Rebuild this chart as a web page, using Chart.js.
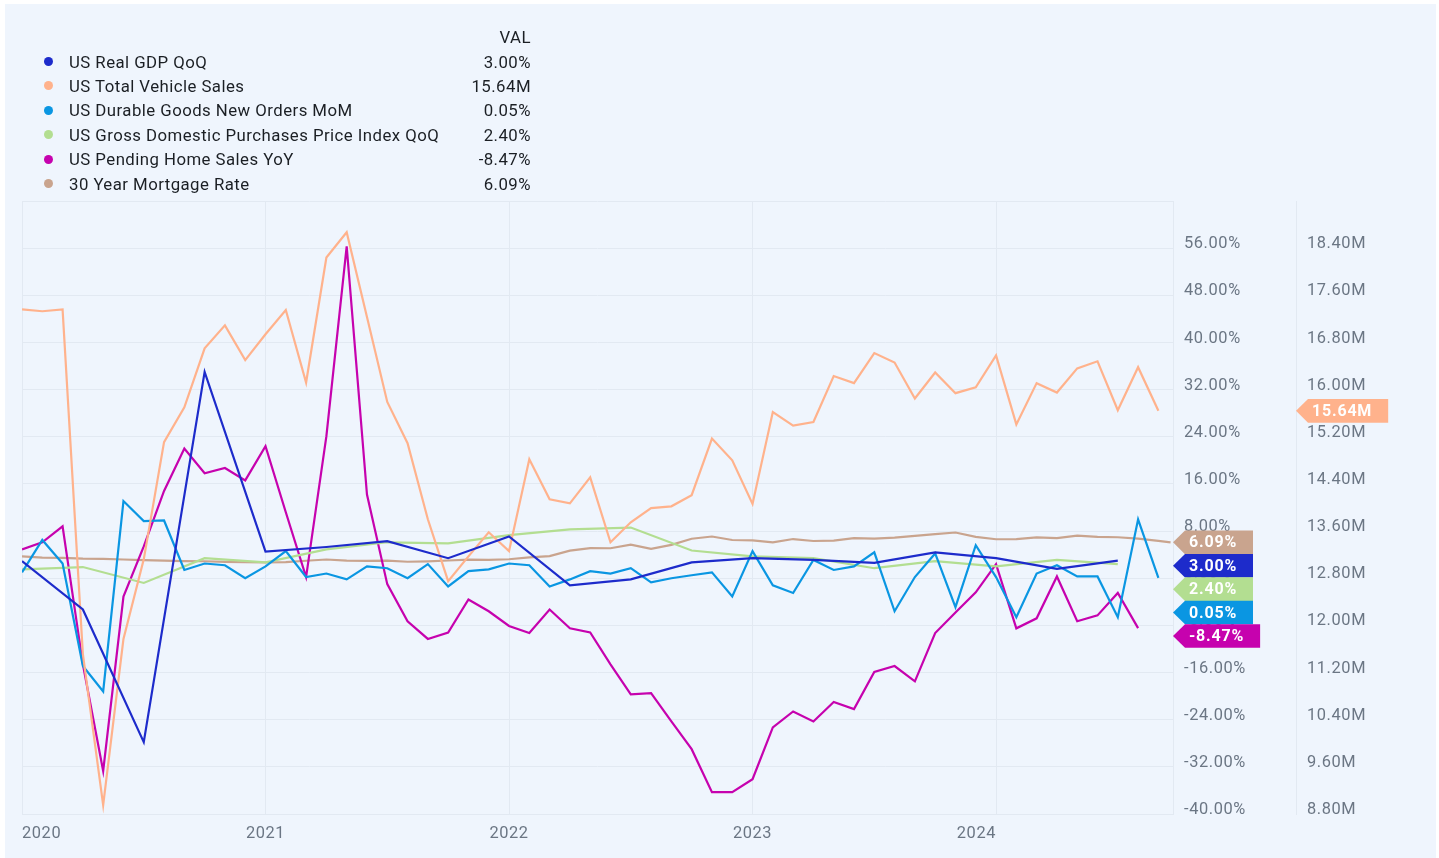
<!DOCTYPE html>
<html>
<head>
<meta charset="utf-8">
<script src="https://cdn.jsdelivr.net/npm/chart.js@4.4.1/dist/chart.umd.min.js"></script>
<style>
  html, body { margin: 0; padding: 0; background: #ffffff; }
  body { width: 1439px; height: 858px; position: relative; overflow: hidden; font-family: Roboto, "Noto Sans", sans-serif; }
  .panel { position: absolute; left: 5px; top: 4px; width: 1431px; height: 854px; background: #eff5fd; }
  #chart { position: absolute; left: 0; top: 0; width: 1439px; height: 858px; }
  .legend { position: absolute; left: 44px; top: 25px; width: 487px; font-size: 16.8px; letter-spacing: 0.45px; color: #1b1f24; z-index: 2; }
  .legend .row { height: 24.4px; display: flex; align-items: center; }
  .legend .dot { width: 9px; height: 9px; border-radius: 50%; margin-right: 16px; flex: none; }
  .legend .name { flex: 1; white-space: nowrap; }
  .legend .val { text-align: right; white-space: nowrap; }
</style>
</head>
<body>
<div class="panel"></div>
<canvas id="chart" width="1439" height="858"></canvas>
<div class="legend" id="legend"></div>
<script>
// Eixo x: meses desde jan/2020
const yearLabels = ['2020', '2021', '2022', '2023', '2024'];
const yearTicks = [0, 12, 24, 36, 48];
const pctTicks = [-40, -32, -24, -16, -8, 0, 8, 16, 24, 32, 40, 48, 56, 64];
const millionTicks = [8.8, 9.6, 10.4, 11.2, 12.0, 12.8, 13.6, 14.4, 15.2, 16.0, 16.8, 17.6, 18.4, 19.2];

const seriesNames = [
    'US Real GDP QoQ',
    'US Total Vehicle Sales',
    'US Durable Goods New Orders MoM',
    'US Gross Domestic Purchases Price Index QoQ',
    'US Pending Home Sales YoY',
    '30 Year Mortgage Rate'
];

// trimestral, a partir de jan/2020
const gdpQoQ = [2.9, -5.3, -27.8, 35.0, 4.5, 5.3, 6.3, 3.4, 7.1, -1.2, -0.2, 2.7, 3.4, 3.1, 2.6, 4.4, 3.4, 1.6, 3.0];

// mensal, milhões
const vehicleSales = [17.36, 17.33, 17.36, 11.51, 8.95, 11.77, 13.12, 15.11, 15.70, 16.70, 17.09, 16.50,
    16.94, 17.35, 16.12, 18.24, 18.67, 17.23, 15.79, 15.09, 13.80, 12.75, 13.17, 13.58,
    13.26, 14.82, 14.14, 14.07, 14.51, 13.41, 13.75, 13.99, 14.02, 14.21, 15.17, 14.80,
    14.06, 15.62, 15.39, 15.45, 16.23, 16.11, 16.62, 16.46, 15.85, 16.29, 15.94, 16.04,
    16.58, 15.41, 16.11, 15.95, 16.36, 16.48, 15.65, 16.38, 15.64];

const durableGoods = [1.0, 6.5, 2.5, -14.9, -19.2, 13.1, 9.7, 9.8, 1.4, 2.5, 2.2, 0.0,
    2.0, 4.6, 0.2, 0.8, -0.2, 2.0, 1.7, 0.0, 2.4, -1.4, 1.2, 1.5,
    2.5, 2.2, -1.4, -0.2, 1.2, 0.8, 1.7, -0.7, 0.0, 0.5, 1.0, -3.1,
    4.6, -1.2, -2.5, 3.1, 1.4, 2.0, 4.4, -5.6, 0.2, 4.2, -4.9, 5.6,
    0.2, -6.6, 0.8, 2.2, 0.3, 0.3, -6.6, 10.0, 0.05];

// trimestral
const grossPurchases = [1.5, 1.9, -0.8, 3.4, 2.7, 4.9, 6.1, 5.9, 7.3, 8.3, 8.6, 4.7, 3.7, 3.4, 1.7, 2.9, 2.0, 3.1, 2.4];

const pendingHome = [4.9, 6.1, 8.8, -14.6, -32.7, -3.1, 5.4, 14.8, 22.0, 17.8, 18.7, 16.6,
    22.4, 11.2, 0.2, 24.1, 56.3, 14.2, -1.0, -7.3, -10.3, -9.2, -3.6, -5.6,
    -8.1, -9.3, -5.3, -8.5, -9.2, -14.6, -19.7, -19.5, -24.3, -29.0, -36.3, -36.3,
    -34.1, -25.3, -22.6, -24.3, -21.0, -22.2, -15.9, -14.9, -17.5, -9.3, -5.8, -2.4,
    2.4, -8.5, -6.8, 0.3, -7.3, -6.3, -2.5, -8.47];

const mortgageRate = [3.72, 3.51, 3.45, 3.33, 3.29, 3.18, 3.07, 2.99, 2.91, 2.88, 2.78, 2.71,
    2.67, 2.73, 2.97, 3.18, 2.98, 2.96, 2.98, 2.80, 2.87, 3.01, 3.14, 3.11,
    3.22, 3.55, 3.76, 4.67, 5.10, 5.09, 5.70, 4.99, 5.66, 6.70, 7.08, 6.49,
    6.42, 6.09, 6.65, 6.32, 6.39, 6.79, 6.71, 6.90, 7.18, 7.49, 7.76, 7.03,
    6.61, 6.63, 6.94, 6.82, 7.22, 7.03, 6.95, 6.73, 6.35];
const mortgageLast = { month: 56.6, value: 6.09 };

const xMax = 56.72;

const colors = ['#1d2bcb', '#ffb28c', '#0a96e2', '#b3de91', '#c602ae', '#c9a48e'];
const gridColor = '#e2e9f2';

function series(values, step) {
    return values.map((v, i) => ({ x: i * step, y: v }));
}

const mortgagePoints = series(mortgageRate, 1).concat([{ x: mortgageLast.month, y: mortgageLast.value }]);

const seriesData = [
    { data: series(gdpQoQ, 3), axis: 'yPct' },
    { data: series(vehicleSales, 1), axis: 'yM' },
    { data: series(durableGoods, 1), axis: 'yPct' },
    { data: series(grossPurchases, 3), axis: 'yPct' },
    { data: series(pendingHome, 1), axis: 'yPct' },
    { data: mortgagePoints, axis: 'yPct' }
];

function fmt(axis, v) {
    return v.toFixed(2) + (axis === 'yM' ? 'M' : '%');
}

// Legenda em HTML
const legend = document.getElementById('legend');
let html = '<div class="row"><span class="name"></span><span class="val">VAL</span></div>';
seriesNames.forEach((name, i) => {
    const pts = seriesData[i].data;
    html += '<div class="row"><span class="dot" style="background:' + colors[i] + '"></span>' +
        '<span class="name">' + name + '</span><span class="val">' + fmt(seriesData[i].axis, pts[pts.length - 1].y) + '</span></div>';
});
legend.innerHTML = html;

const spacingPlugin = {
    id: 'spacing',
    beforeDraw(chart) {
        chart.ctx.letterSpacing = '0.6px';
    }
};

// etiquetas com o último valor, empilhadas para não sobrepor
const tagPlugin = {
    id: 'lastTags',
    afterDraw(chart) {
        const ctx = chart.ctx;
        const groups = {};
        chart.data.datasets.forEach((ds, i) => {
            const last = ds.data[ds.data.length - 1];
            const scale = chart.scales[ds.yAxisID];
            (groups[ds.yAxisID] = groups[ds.yAxisID] || []).push({
                y: scale.getPixelForValue(last.y),
                x: scale.left,
                text: fmt(ds.yAxisID, last.y),
                color: colors[i]
            });
        });
        ctx.save();
        ctx.letterSpacing = '0.8px';
        ctx.font = 'bold 16px Roboto';
        ctx.textBaseline = 'middle';
        ctx.textAlign = 'left';
        Object.keys(groups).forEach(k => {
            const tags = groups[k].sort((a, b) => a.y - b.y);
            let prev = -Infinity;
            tags.forEach(t => {
                const h = 23.6, a = 12;
                const y = Math.max(t.y, prev + 23.4);
                prev = y;
                const w = ctx.measureText(t.text).width;
                const right = t.x + a + 4 + w + 16;
                ctx.fillStyle = t.color;
                ctx.beginPath();
                ctx.moveTo(t.x, y);
                ctx.lineTo(t.x + a, y - h / 2);
                ctx.lineTo(right, y - h / 2);
                ctx.lineTo(right, y + h / 2);
                ctx.lineTo(t.x + a, y + h / 2);
                ctx.closePath();
                ctx.fill();
                ctx.fillStyle = '#ffffff';
                ctx.fillText(t.text, t.x + a + 4, y + 1);
            });
        });
        ctx.restore();
    }
};

const tickFont = { family: 'Roboto', size: 16.4 };
const tickColor = '#6b7684';

const config = {
    type: 'line',
    data: {
        datasets: seriesData.map((s, i) => ({
            label: seriesNames[i],
            data: s.data,
            yAxisID: s.axis,
            borderColor: colors[i],
            backgroundColor: colors[i],
            borderWidth: 2.2,
            pointRadius: 0,
            tension: 0,
            fill: false
        }))
    },
    options: {
        responsive: false,
        animation: false,
        devicePixelRatio: 1,
        layout: { padding: { left: 22, top: 201, right: 0, bottom: 0 } },
        plugins: {
            legend: { display: false },
            tooltip: { enabled: false },
            title: { display: false }
        },
        scales: {
            x: {
                type: 'linear',
                min: 0,
                max: xMax,
                afterBuildTicks: scale => { scale.ticks = yearTicks.map(v => ({ value: v })); },
                afterFit: scale => { scale.height = 44; },
                grid: { color: gridColor, drawTicks: false },
                border: { color: gridColor },
                ticks: {
                    callback: (v, i) => yearLabels[i],
                    align: 'inner',
                    padding: 10,
                    autoSkip: false,
                    maxRotation: 0,
                    font: tickFont,
                    color: tickColor
                }
            },
            yPct: {
                type: 'linear',
                position: 'right',
                weight: 0,
                min: -40,
                max: 64,
                afterBuildTicks: scale => { scale.ticks = pctTicks.map(v => ({ value: v })); },
                afterFit: scale => { scale.width = 123; },
                grid: { color: gridColor, drawTicks: false },
                border: { color: gridColor },
                ticks: {
                    callback: v => (v === 64 ? '' : v.toFixed(2) + '%'),
                    padding: 11,
                    labelOffset: -4,
                    autoSkip: false,
                    font: tickFont,
                    color: tickColor
                }
            },
            yM: {
                type: 'linear',
                position: 'right',
                weight: 1,
                min: 8.8,
                max: 19.2,
                afterBuildTicks: scale => { scale.ticks = millionTicks.map(v => ({ value: v })); },
                afterFit: scale => { scale.width = 143; },
                grid: { display: false, drawTicks: false },
                border: { color: gridColor },
                ticks: {
                    callback: v => (Math.abs(v - 19.2) < 0.01 ? '' : v.toFixed(2) + 'M'),
                    padding: 11,
                    labelOffset: -4,
                    autoSkip: false,
                    font: tickFont,
                    color: tickColor
                }
            }
        }
    },
    plugins: [spacingPlugin, tagPlugin]
};

function initializeChart() {
    const ctx = document.getElementById('chart').getContext('2d');
    new Chart(ctx, config);
}

document.addEventListener('DOMContentLoaded', initializeChart);
</script>
</body>
</html>
